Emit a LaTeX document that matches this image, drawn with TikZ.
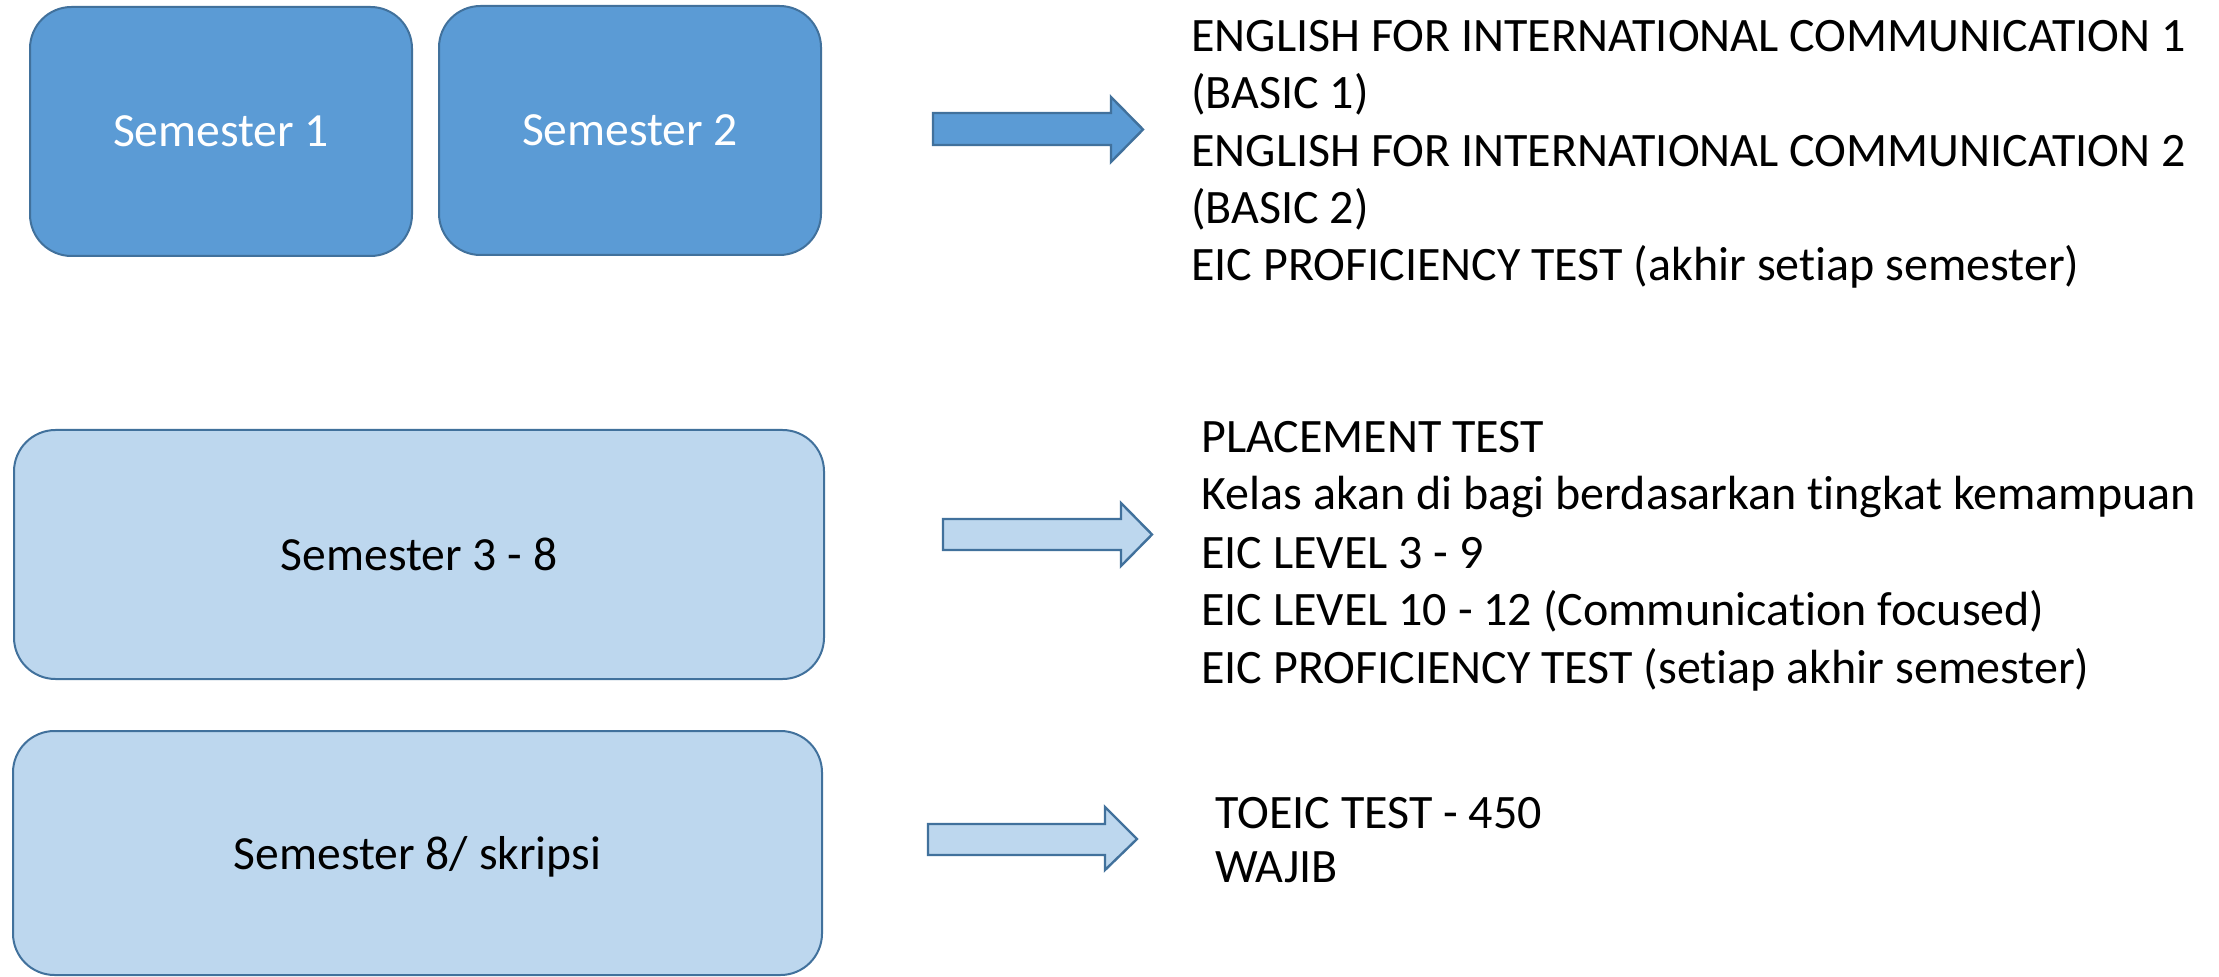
\documentclass[tikz,border=0pt]{standalone}
\usepackage{fontspec}
\setmainfont{Carlito}[Ligatures={NoCommon}]
\definecolor{darkfill}{HTML}{5B9BD5}
\definecolor{lightfill}{HTML}{BDD7EE}
\definecolor{edge}{HTML}{41719C}
\tikzset{
  semdark/.style={draw=edge, line width=1pt, fill=darkfill, rounded corners=20.75pt, text=white, font=\fontsize{23.8}{28.6}\selectfont, inner sep=0pt, text depth=0pt},
  semlight/.style={draw=edge, line width=1pt, fill=lightfill, rounded corners=20.75pt, text=black, font=\fontsize{23.8}{28.6}\selectfont, inner sep=0pt, text depth=0pt},
  info/.style={anchor=base west, inner sep=0pt, font=\fontsize{24}{28.6}\selectfont},
  blockarrow/.style={draw=edge, line width=1.2pt, line join=miter},
}
\begin{document}
\begin{tikzpicture}[x=0.5pt,y=-0.5pt]
\path[use as bounding box, fill=white] (0,0) rectangle (2219,977);
% boxes
\node[semdark, minimum width=191pt, minimum height=124.5pt] (s1) at (221,131.5) {Semester 1};
\node[semdark, minimum width=191pt, minimum height=124.5pt] (s2) at (630,130.5) {Semester 2};
\node[semlight, minimum width=405pt, minimum height=124.5pt] (s3) at (419,554.5) {Semester 3 - 8};
\node[semlight, minimum width=404.5pt, minimum height=122pt] (s4) at (417.5,853) {Semester 8/ skripsi};
% block arrows
\draw[blockarrow, fill=darkfill] (933,113) -- (1111,113) -- (1111,97) -- (1143,129.5) -- (1111,162) -- (1111,145) -- (933,145) -- cycle;
\draw[blockarrow, fill=lightfill] (943,519) -- (1121,519) -- (1121,503) -- (1152,534.5) -- (1121,566) -- (1121,550) -- (943,550) -- cycle;
\draw[blockarrow, fill=lightfill] (928,824) -- (1105,824) -- (1105,807) -- (1137,839) -- (1105,870) -- (1105,855) -- (928,855) -- cycle;
% text block 1
\node[info] (a1) at (1191,52) {ENGLISH FOR INTERNATIONAL COMMUNICATION 1};
\node[info] (a2) at (1191,109) {(BASIC 1)};
\node[info] (a3) at (1191,166.5) {ENGLISH FOR INTERNATIONAL COMMUNICATION 2};
\node[info] (a4) at (1191,223.5) {(BASIC 2)};
\node[info] (a5) at (1191,281) {EIC PROFICIENCY TEST (akhir setiap semester)};
% text block 2
\node[info] (b1) at (1201,453) {PLACEMENT TEST};
\node[info] (b2) at (1201,510) {Kelas akan di bagi berdasarkan tingkat kemampuan};
\node[info] (b3) at (1201,568) {EIC LEVEL 3 - 9};
\node[info] (b4) at (1201,625) {EIC LEVEL 10 - 12 (Communication focused)};
\node[info] (b5) at (1201,683) {EIC PROFICIENCY TEST (setiap akhir semester)};
% text block 3
\node[info] (c1) at (1215,828) {TOEIC TEST - 450};
\node[info] (c2) at (1215,882) {WAJIB};
\end{tikzpicture}
\end{document}
